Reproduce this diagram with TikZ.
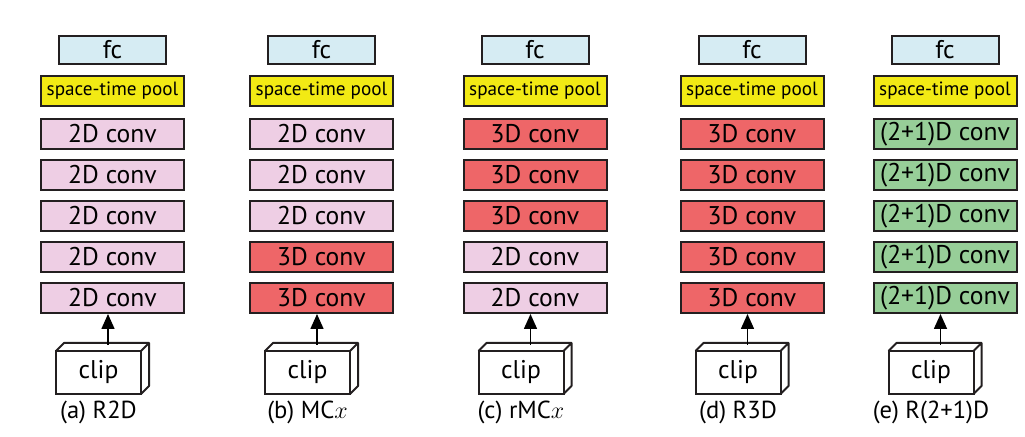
\documentclass[tikz,border=0pt]{standalone}
\usepackage{fontspec}
\setmainfont{PT Sans}
\usepackage{tikz}
\usetikzlibrary{arrows.meta,positioning}
\definecolor{fcblue}{RGB}{214,236,243}
\definecolor{poolyellow}{RGB}{242,234,20}
\definecolor{pinktwo}{RGB}{238,206,228}
\definecolor{redthree}{RGB}{238,102,104}
\definecolor{greenmix}{RGB}{151,206,152}
\definecolor{edge}{RGB}{35,31,32}
% back faces of the clip cube
\newcommand{\clipdepth}[1]{%
  \draw[cube] (#1.north west) -- ++(4pt,4pt) -- ([shift={(4pt,4pt)}]#1.north east)
    -- ([shift={(4pt,4pt)}]#1.south east) -- (#1.south east)
    (#1.north east) -- ++(4pt,4pt);}

\begin{document}
\begin{tikzpicture}[
  font=\fontsize{12.8}{14}\selectfont,
  box/.style={draw=edge, line width=1pt, align=center, inner sep=0pt, minimum width=71.5pt, minimum height=15pt},
  fcbox/.style={box, fill=fcblue, minimum width=53.5pt, minimum height=14pt},
  poolbox/.style={box, fill=poolyellow, font=\fontsize{9.6}{10}\selectfont},
  convtwo/.style={box, fill=pinktwo},
  convthree/.style={box, fill=redthree},
  convmix/.style={box, fill=greenmix},
  clipbox/.style={draw=edge, line width=1pt, fill=white, outer sep=0pt, minimum width=42.5pt, minimum height=21.5pt, inner sep=0pt},
  cube/.style={draw=edge, line width=1pt, line join=round},
  lab/.style={inner sep=1pt, font=\fontsize{12.3}{13}\selectfont},
  arr/.style={-{Triangle[length=7.5pt,width=6.5pt]}, line width=0.8pt, draw=black}
]
  \useasboundingbox (0,0) rectangle (512.5pt,-218.5pt);

  % (a) R2D
  \node[fcbox] (fca) at (56.25pt,-25pt) {fc};
  \node[poolbox, below=5pt of fca] (poola) {space-time pool};
  \node[convtwo, below=5.5pt of poola] (ca1) {2D conv};
  \node[convtwo, below=4.5pt of ca1] (ca2) {2D conv};
  \node[convtwo, below=4.5pt of ca2] (ca3) {2D conv};
  \node[convtwo, below=4.5pt of ca3] (ca4) {2D conv};
  \node[convtwo, below=4.5pt of ca4] (ca5) {2D conv};
  \node[clipbox, below=18.5pt of ca5, xshift=-7pt] (clipa) {clip};
  \clipdepth{clipa}
  \node[lab, below=2.5pt of clipa] (laba) {(a) R2D};
  \coordinate (ina) at ([shift={(4.75pt,3pt)}]clipa.north);
  \draw[arr] (ina) -- (ina |- ca5.south);

  % (b) MCx
  \node[fcbox] (fcb) at (160.75pt,-25pt) {fc};
  \node[poolbox, below=5pt of fcb] (poolb) {space-time pool};
  \node[convtwo, below=5.5pt of poolb] (cb1) {2D conv};
  \node[convtwo, below=4.5pt of cb1] (cb2) {2D conv};
  \node[convtwo, below=4.5pt of cb2] (cb3) {2D conv};
  \node[convthree, below=4.5pt of cb3] (cb4) {3D conv};
  \node[convthree, below=4.5pt of cb4] (cb5) {3D conv};
  \node[clipbox, below=18.5pt of cb5, xshift=-7pt] (clipb) {clip};
  \clipdepth{clipb}
  \node[lab, below=2.5pt of clipb] (labb) {(b) MC$x$};
  \coordinate (inb) at ([shift={(4.75pt,3pt)}]clipb.north);
  \draw[arr] (inb) -- (inb |- cb5.south);

  % (c) rMCx
  \node[fcbox] (fcc) at (267.5pt,-25pt) {fc};
  \node[poolbox, below=5pt of fcc] (poolc) {space-time pool};
  \node[convthree, below=5.5pt of poolc] (cc1) {3D conv};
  \node[convthree, below=4.5pt of cc1] (cc2) {3D conv};
  \node[convthree, below=4.5pt of cc2] (cc3) {3D conv};
  \node[convtwo, below=4.5pt of cc3] (cc4) {2D conv};
  \node[convtwo, below=4.5pt of cc4] (cc5) {2D conv};
  \node[clipbox, below=18.5pt of cc5, xshift=-7pt] (clipc) {clip};
  \clipdepth{clipc}
  \node[lab, below=2.5pt of clipc] (labc) {(c) rMC$x$};
  \coordinate (inc) at ([shift={(4.75pt,3pt)}]clipc.north);
  \draw[arr] (inc) -- (inc |- cc5.south);

  % (d) R3D
  \node[fcbox] (fcd) at (376pt,-25pt) {fc};
  \node[poolbox, below=5pt of fcd] (poold) {space-time pool};
  \node[convthree, below=5.5pt of poold] (cd1) {3D conv};
  \node[convthree, below=4.5pt of cd1] (cd2) {3D conv};
  \node[convthree, below=4.5pt of cd2] (cd3) {3D conv};
  \node[convthree, below=4.5pt of cd3] (cd4) {3D conv};
  \node[convthree, below=4.5pt of cd4] (cd5) {3D conv};
  \node[clipbox, below=18.5pt of cd5, xshift=-7pt] (clipd) {clip};
  \clipdepth{clipd}
  \node[lab, below=2.5pt of clipd] (labd) {(d) R3D};
  \coordinate (ind) at ([shift={(4.75pt,3pt)}]clipd.north);
  \draw[arr] (ind) -- (ind |- cd5.south);

  % (e) R(2+1)D
  \node[fcbox] (fce) at (472.5pt,-25pt) {fc};
  \node[poolbox, below=5pt of fce] (poole) {space-time pool};
  \node[convmix, below=5.5pt of poole] (ce1) {(2+1)D conv};
  \node[convmix, below=4.5pt of ce1] (ce2) {(2+1)D conv};
  \node[convmix, below=4.5pt of ce2] (ce3) {(2+1)D conv};
  \node[convmix, below=4.5pt of ce3] (ce4) {(2+1)D conv};
  \node[convmix, below=4.5pt of ce4] (ce5) {(2+1)D conv};
  \node[clipbox, below=18.5pt of ce5, xshift=-7pt] (clipe) {clip};
  \clipdepth{clipe}
  \node[lab, below=2.5pt of clipe] (labe) {(e) R(2+1)D};
  \coordinate (ine) at ([shift={(4.75pt,3pt)}]clipe.north);
  \draw[arr] (ine) -- (ine |- ce5.south);
\end{tikzpicture}
\end{document}
